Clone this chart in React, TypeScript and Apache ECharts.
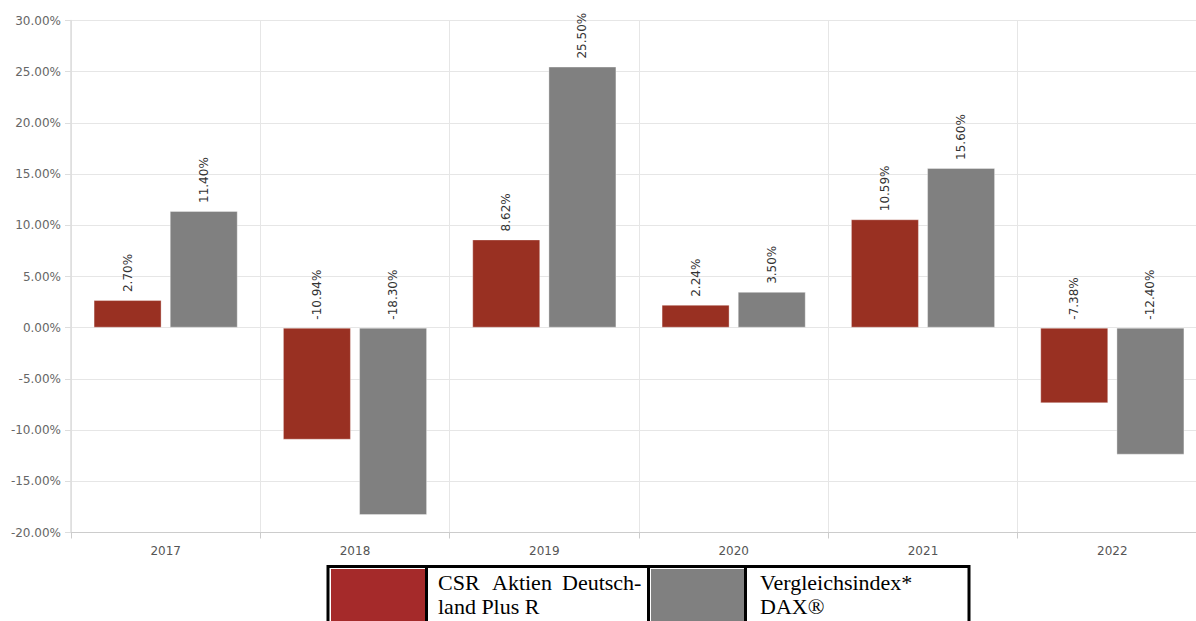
import React, { useEffect, useRef } from "react";
import * as echarts from "echarts";

const years = ["2017", "2018", "2019", "2020", "2021", "2022"];
const fundValues = [2.7, -10.94, 8.62, 2.24, 10.59, -7.38];
const indexValues = [11.4, -18.3, 25.5, 3.5, 15.6, -12.4];
const fundName = "CSR Aktien Deutschland Plus R";
const indexName = "Vergleichsindex* DAX®";
const fundLegendLines = [["CSR", "Aktien", "Deutsch-"], ["land Plus R"]];
const indexLegendLines = ["Vergleichsindex*", "DAX®"];

const fmt = (v: number) => v.toFixed(2) + "%";

export default function App() {
  const ref = useRef<HTMLDivElement>(null);
  useEffect(() => {
    if (!ref.current) return;
    const chart = echarts.init(ref.current, undefined, { renderer: "svg" });
    const labelCfg = {
      show: true,
      position: "top",
      rotate: 90,
      align: "left",
      verticalAlign: "middle",
      distance: 8,
      color: "#333",
      fontFamily: "DejaVu Sans",
      fontSize: 12,
      formatter: (p: any) => fmt(p.value),
    };
    const serif = "Liberation Serif";
    const txt = (x: number, y: number, t: string) => ({
      type: "text",
      x,
      y,
      style: { text: t, fill: "#000", fontFamily: serif, fontSize: 22, verticalAlign: "top", align: "left" },
    });
    chart.setOption({
      animation: false,
      grid: { left: 71, top: 20.5, bottom: 88.5, right: 0, containLabel: false },
      xAxis: {
        type: "category",
        data: years,
        boundaryGap: true,
        axisLine: { onZero: false, lineStyle: { color: "#ccc" } },
        axisTick: { show: true, length: 6, lineStyle: { color: "#ccc" } },
        splitLine: { show: true, lineStyle: { color: "#e6e6e6" } },
        axisLabel: { color: "#555", fontFamily: "DejaVu Sans", fontSize: 12, margin: 12 },
      },
      yAxis: {
        type: "value",
        min: -20,
        max: 30,
        interval: 5,
        axisLine: { show: true, lineStyle: { color: "#ddd", width: 1.5 } },
        axisTick: { show: true, length: 6, lineStyle: { color: "#ddd" } },
        splitLine: { show: true, lineStyle: { color: "#e6e6e6" } },
        axisLabel: {
          color: "#666",
          fontFamily: "DejaVu Sans",
          fontSize: 12,
          margin: 10,
          formatter: (v: number) => fmt(v),
        },
      },
      series: [
        {
          name: fundName,
          type: "bar",
          data: fundValues,
          barWidth: 68,
          barGap: "12%",
          itemStyle: { color: "#993022", borderColor: "rgba(255,255,255,0.35)", borderWidth: 1 },
          label: labelCfg,
        },
        {
          name: indexName,
          type: "bar",
          data: indexValues,
          barWidth: 68,
          barGap: "12%",
          itemStyle: { color: "#808080", borderColor: "rgba(255,255,255,0.35)", borderWidth: 1 },
          label: labelCfg,
        },
      ],
      graphic: [
        { type: "rect", shape: { x: 331, y: 569, width: 94, height: 60 }, style: { fill: "#a52a2a" } },
        { type: "rect", shape: { x: 651, y: 569, width: 93, height: 60 }, style: { fill: "#808080" } },
        {
          type: "rect",
          shape: { x: 328, y: 566.5, width: 641, height: 70 },
          style: { fill: "none", stroke: "#000", lineWidth: 3 },
        },
        { type: "line", shape: { x1: 426.5, y1: 566, x2: 426.5, y2: 640 }, style: { stroke: "#000", lineWidth: 3 } },
        { type: "line", shape: { x1: 648.5, y1: 566, x2: 648.5, y2: 640 }, style: { stroke: "#000", lineWidth: 3 } },
        { type: "line", shape: { x1: 745.5, y1: 566, x2: 745.5, y2: 640 }, style: { stroke: "#000", lineWidth: 3 } },
        txt(438, 571, fundLegendLines[0][0]),
        txt(492, 571, fundLegendLines[0][1]),
        txt(562, 571, fundLegendLines[0][2]),
        txt(438, 595, fundLegendLines[1][0]),
        txt(760, 571, indexLegendLines[0]),
        txt(760, 595, indexLegendLines[1]),
      ],
    });
    return () => chart.dispose();
  }, []);
  return (
    <div
      style={{ position: "fixed", left: 0, top: 0, width: 1196, height: 621, overflow: "hidden", background: "#fff" }}
    >
      <div ref={ref} style={{ position: "absolute", left: 0, top: 0, width: 1207, height: 621 }} />
    </div>
  );
}
